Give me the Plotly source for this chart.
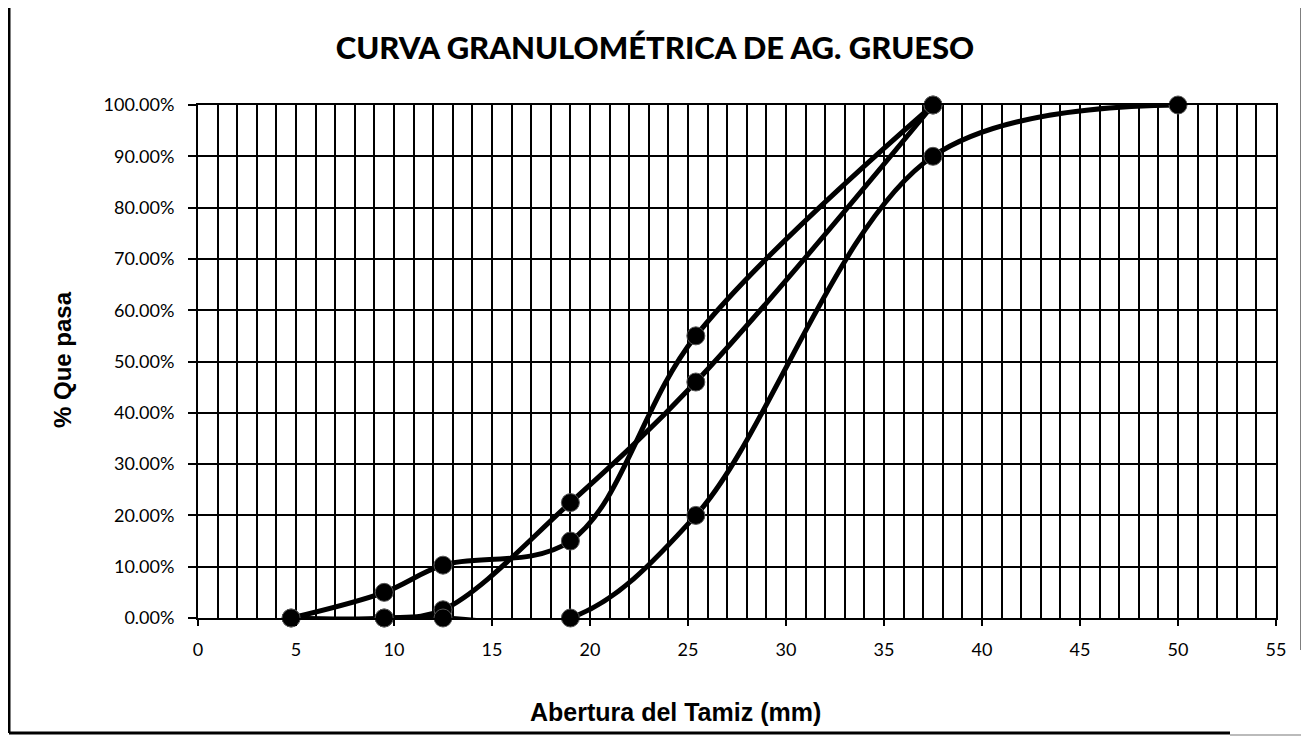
import plotly.graph_objects as go

# Data
sieve_upper = [4.75, 9.5, 12.5, 19.0, 25.4, 37.5]
pass_upper = [0.0, 5.0, 10.3, 15.0, 55.0, 100.0]

sieve_sample = [4.75, 9.5, 12.5, 19.0, 25.4, 37.5]
pass_sample = [0.0, 0.0, 1.6, 22.5, 46.0, 100.0]

sieve_lower = [9.5, 12.5, 19.0, 25.4, 37.5, 50.0]
pass_lower = [0.0, 0.0, 0.0, 20.0, 90.0, 100.0]

title_text = "CURVA GRANULOMÉTRICA DE AG. GRUESO"
x_title = "Abertura del Tamiz (mm)"
y_title = "% Que pasa"

OFF = 8  # page body margin
W, H = 1309 - OFF, 737 - OFF
# plot area in page pixels
PL, PR, PT, PB = 198, 1276, 105, 618
L, R, T, B = PL - OFF, PR - OFF, PT - OFF, PB - OFF

fig = go.Figure()
for xs, ys, nm in [(sieve_upper, pass_upper, "Límite superior"),
                   (sieve_sample, pass_sample, "Muestra"),
                   (sieve_lower, pass_lower, "Límite inferior")]:
    fig.add_trace(go.Scatter(
        x=xs, y=ys, name=nm, mode="lines+markers",
        line=dict(color="black", width=5, shape="spline", smoothing=1.0),
        marker=dict(color="black", size=18, line=dict(color="#555555", width=1)),
        cliponaxis=False, showlegend=False,
    ))

def px_x(p):  # page pixel -> paper
    return (p - PL) / (PR - PL)

def px_y(p):
    return (PB - p) / (PB - PT)

fig.update_layout(
    width=W, height=H,
    margin=dict(l=L, r=W - R, t=T, b=H - B, pad=0),
    paper_bgcolor="white", plot_bgcolor="white",
    title=dict(text=title_text, x=px_x(655), xref="paper", xanchor="center",
               y=1 - (48 - OFF) / H, yanchor="middle",
               font=dict(family="Lato", size=31, color="black", weight=900)),
    font=dict(family="Lato", color="black"),
)
fig.update_xaxes(
    range=[0, 55], dtick=5, tick0=0,
    showgrid=True, gridcolor="black", gridwidth=1.8,
    minor=dict(dtick=1, showgrid=True, gridcolor="black", gridwidth=1.8),
    showline=True, linecolor="black", linewidth=2, mirror=True,
    ticks="outside", ticklen=6, tickcolor="black", tickwidth=2,
    ticklabelstandoff=8,
    tickfont=dict(family="Lato", size=18, color="black"),
    zeroline=False,
)
fig.update_yaxes(
    range=[0, 100], dtick=10, tick0=0,
    tickformat=".2f", ticksuffix="%",
    showgrid=True, gridcolor="black", gridwidth=1.8,
    showline=True, linecolor="black", linewidth=2, mirror=True,
    ticks="outside", ticklen=8, tickcolor="black", tickwidth=2,
    ticklabelstandoff=10,
    tickfont=dict(family="Lato", size=18, color="black"),
    zeroline=False,
)

fig.add_annotation(text=y_title, x=px_x(62), y=px_y(360), xref="paper", yref="paper",
                   xanchor="center", yanchor="middle",
                   showarrow=False, textangle=-90,
                   font=dict(family="Liberation Sans", size=24, color="black", weight="bold"))
fig.add_annotation(text=x_title, x=px_x(675), y=px_y(712), xref="paper", yref="paper",
                   xanchor="center", yanchor="middle",
                   showarrow=False,
                   font=dict(family="Liberation Sans", size=25, color="black", weight="bold"))

# outer chart border (page pixel coordinates converted to paper)
border = [
    (9, 5, 9, 733, "black", 3),
    (9, 5, 1302, 5, "black", 3),
    (1302, 5, 1302, 650, "black", 3),
    (9, 733, 1230, 733, "black", 3),
    (1230, 735, 1309, 735, "#bbbbbb", 2),
]
for x0, y0, x1, y1, c, w in border:
    fig.add_shape(type="line", xref="paper", yref="paper",
                  x0=px_x(x0), y0=px_y(y0), x1=px_x(x1), y1=px_y(y1),
                  line=dict(color=c, width=w), layer="above")

fig.write_html("out.html")
